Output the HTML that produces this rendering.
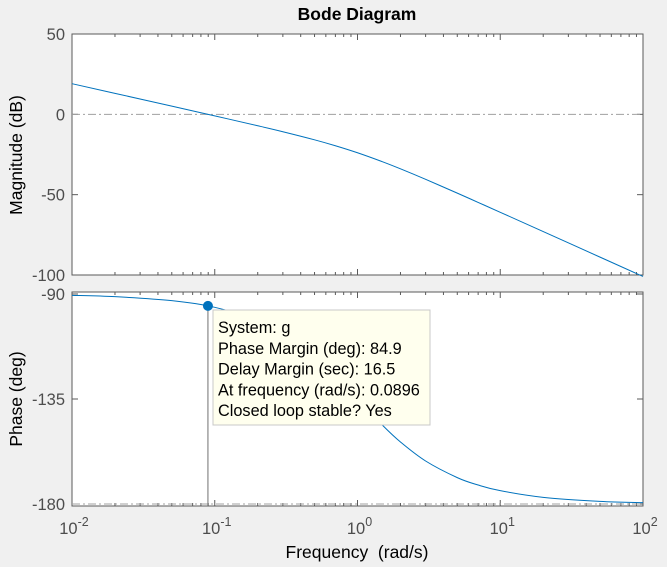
<!DOCTYPE html>
<html><head><meta charset="utf-8"><style>
body{margin:0;background:#f0f0f0;}
svg{display:block;font-family:"Liberation Sans",sans-serif;}
</style></head><body>
<svg id="chart" width="667" height="567" viewBox="0 0 667 567">
<rect width="667" height="567" fill="#f0f0f0"/>
<text x="357" y="20" text-anchor="middle" font-size="17.5" font-weight="bold" fill="#000">Bode Diagram</text>
<rect x="72" y="34" width="571" height="241" fill="#fff" stroke="#5a5a5a" stroke-width="1"/>
<rect x="72" y="292" width="571" height="214" fill="#fff" stroke="#5a5a5a" stroke-width="1"/>
<g id="ticks"></g>
<g id="marks"></g>
<text transform="translate(22,155) rotate(-90)" text-anchor="middle" font-size="17.5" fill="#000">Magnitude (dB)</text>
<text transform="translate(22,399) rotate(-90)" text-anchor="middle" font-size="17.5" fill="#000">Phase (deg)</text>
<text x="357" y="558" text-anchor="middle" font-size="17.5" fill="#000" style="white-space:pre">Frequency  (rad/s)</text>
</svg>
<script>
const freqs=[0.01,0.02,0.05,0.1,0.2,0.3,0.5,0.7,1,1.5,2,3,5,7,10,20,50,100];
const magDb=[19.08,13.06,5.10,-0.96,-7.11,-10.83,-15.86,-19.56,-23.93,-29.56,-33.93,-40.46,-49.04,-54.81,-60.96,-72.98,-88.87,-100.92];
const phaseDeg=[-90.57,-91.15,-92.86,-95.71,-101.31,-106.70,-116.57,-124.99,-135,-146.31,-153.43,-161.57,-168.69,-171.87,-174.29,-177.14,-178.85,-179.43];
const magTicks=[50,0,-50,-100];
const phaseTicks=[-90,-135,-180];
const xDecades=[-2,-1,0,1,2];
const marginFreq=0.0896;
const marginPhase=-95.1;
const tipLines=["System: g","Phase Margin (deg): 84.9","Delay Margin (sec): 16.5","At frequency (rad/s): 0.0896","Closed loop stable? Yes"];

const NS="http://www.w3.org/2000/svg";
const X0=72,X1=643;
const xs=w=>X0+(Math.log10(w)+2)/4*(X1-X0);
const ym=d=>34+(50-d)*(241/150);
const yp=p=>294+(-90-p)*(210/90);
function mk(tag,attrs,parent){const e=document.createElementNS(NS,tag);for(const k in attrs)e.setAttribute(k,attrs[k]);parent.appendChild(e);return e;}
const T=document.getElementById('ticks'),M=document.getElementById('marks');
let l=mk('line',{x1:X0,x2:X1,y1:ym(0),y2:ym(0),stroke:'#a0a0a0','stroke-dasharray':'8,3,2,3'},M);


l=mk('line',{x1:X0,x2:X1,y1:yp(-180),y2:yp(-180),stroke:'#a0a0a0','stroke-dasharray':'8,3,2,3'},M);


for(let d=-2;d<2;d++){for(let k=1;k<10;k++){const x=xs(k*Math.pow(10,d));const len=k==1?6:3;
 for(const [yt,yb] of [[34,275],[292,506]]){
  mk('line',{x1:x,x2:x,y1:yt,y2:yt+len,stroke:'#5a5a5a'},T);
  mk('line',{x1:x,x2:x,y1:yb,y2:yb-len,stroke:'#5a5a5a'},T);}}}
xDecades.forEach(d=>{const x=xs(Math.pow(10,d));
 const t=mk('text',{x:x+2,y:534,'text-anchor':'middle','font-size':16.5,fill:'#4d4d4d'},T);
 
 
 t.textContent='10';const s=mk('tspan',{dy:-8,'font-size':12.5},t);s.textContent=String(d);});
magTicks.forEach(v=>{const y=ym(v);
 mk('line',{x1:X0,x2:X0+6,y1:y,y2:y,stroke:'#5a5a5a'},T);mk('line',{x1:X1,x2:X1-6,y1:y,y2:y,stroke:'#5a5a5a'},T);
 const t=mk('text',{x:65,y:y+6,'text-anchor':'end','font-size':16.5,fill:'#4d4d4d'},T);
 
 
 t.textContent=String(v);});
phaseTicks.forEach(v=>{const y=yp(v);
 mk('line',{x1:X0,x2:X0+6,y1:y,y2:y,stroke:'#5a5a5a'},T);mk('line',{x1:X1,x2:X1-6,y1:y,y2:y,stroke:'#5a5a5a'},T);
 const t=mk('text',{x:65,y:y+6,'text-anchor':'end','font-size':16.5,fill:'#4d4d4d'},T);
 
 
 t.textContent=String(v);});
function path(pts){let d='M'+pts[0][0]+','+pts[0][1];
 for(let i=0;i<pts.length-1;i++){const p0=pts[Math.max(0,i-1)],p1=pts[i],p2=pts[i+1],p3=pts[Math.min(pts.length-1,i+2)];
  d+=' C'+(p1[0]+(p2[0]-p0[0])/6)+','+(p1[1]+(p2[1]-p0[1])/6)+' '+(p2[0]-(p3[0]-p1[0])/6)+','+(p2[1]-(p3[1]-p1[1])/6)+' '+p2[0]+','+p2[1];}
 return d;}
const mp=mk('path',{d:path(freqs.map((w,i)=>[xs(w),ym(magDb[i])])),fill:'none',stroke:'#0072BD','stroke-width':1},M);


const pp=mk('path',{d:path(freqs.map((w,i)=>[xs(w),yp(phaseDeg[i])])),fill:'none',stroke:'#0072BD','stroke-width':1},M);


const mx=xs(marginFreq),my=yp(marginPhase);
const vl=mk('line',{x1:mx,x2:mx,y1:my,y2:506,stroke:'#707070'},M);


const tb=mk('rect',{x:213,y:310,width:217,height:115,fill:'#ffffee',stroke:'#c8c8c8'},M);


tipLines.forEach((s,i)=>{const t=mk('text',{x:218,y:333+i*20.8,'font-size':16.3,fill:'#000'},M);
 
 
 t.textContent=s;});
const c=mk('circle',{cx:mx,cy:my,r:5,fill:'#0072BD'},M);


</script>
</body></html>
